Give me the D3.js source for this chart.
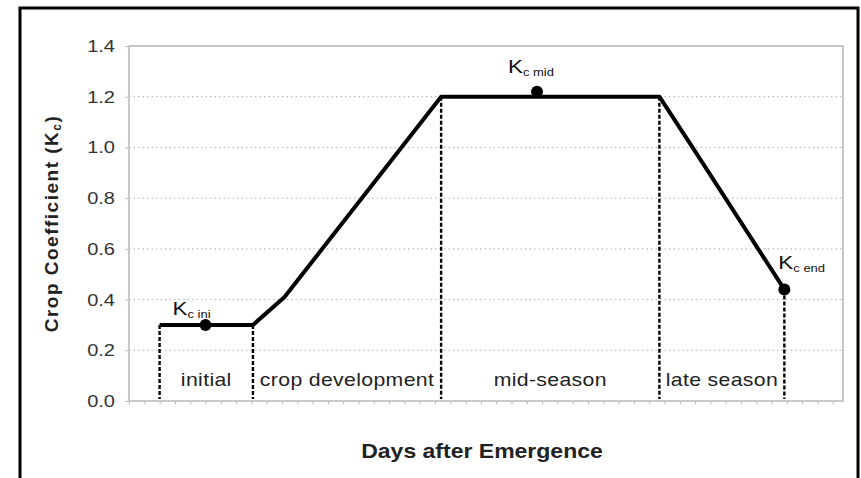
<!DOCTYPE html>
<html>
<head>
<meta charset="utf-8">
<script src="https://cdn.jsdelivr.net/npm/d3@7"></script>
<style>
  body { margin: 0; background: #fff; }
  svg text { font-family: "Liberation Sans", Arial, sans-serif; }
</style>
</head>
<body>
<div id="graphic"></div>
<script>
// crop coefficient curve (days after emergence vs Kc)
var kcDays = [6, 24.3, 30.5, 61.2, 104, 110.5, 128.5];
var kcValues = [0.3, 0.3, 0.41, 1.2, 1.2, 1.0, 0.44];

var stageBounds = [6, 24.3, 61.2, 104, 128.5];
var stageBoundKc = [0.3, 0.3, 1.2, 1.2, 0.44];
var stageNames = ["initial", "crop development", "mid-season", "late season"];

var kcPointDays = [15, 80, 128.5];
var kcPointValues = [0.3, 1.22, 0.44];
var kcPointSubs = ["c ini", "c mid", "c end"];

var yTicks = [0, 0.2, 0.4, 0.6, 0.8, 1.0, 1.2, 1.4];

var width = 861, height = 478;
var margin = {top: 46, right: 18, bottom: 77, left: 129};
var stretch = 1.18; // glyphs in the original are a bit wide

var svg = d3.select("#graphic").append("svg")
  .attr("width", width)
  .attr("height", height);

// outer frame
svg.append("rect")
  .attr("x", 20).attr("y", 8)
  .attr("width", 838).attr("height", 500)
  .attr("fill", "none")
  .attr("stroke", "#000")
  .attr("stroke-width", 3);

var x = d3.scaleLinear().domain([0, 140]).range([margin.left, width - margin.right]);
var y = d3.scaleLinear().domain([0, 1.4]).range([height - margin.bottom, margin.top]);

var features = svg.append("g");

// gridlines
features.selectAll(".grid")
  .data(yTicks.slice(1, -1))
  .enter().append("line")
  .attr("x1", x(0)).attr("x2", x(140))
  .attr("y1", function(d) { return y(d); })
  .attr("y2", function(d) { return y(d); })
  .attr("stroke", "#b0b0b0")
  .attr("stroke-width", 1)
  .attr("stroke-dasharray", "1.5,3");

// minor ticks on the x axis
var xAxis = d3.axisBottom(x).tickValues(d3.range(0, 141, 3)).tickSize(3).tickFormat("");
var xg = features.append("g")
  .attr("transform", "translate(0," + y(0) + ")")
  .call(xAxis);
xg.select(".domain").remove();
xg.selectAll("line").attr("stroke", "#aaa");

// y axis labels
var yAxis = d3.axisLeft(y).tickValues(yTicks).tickSize(4).tickFormat("");
var yg = features.append("g")
  .attr("transform", "translate(" + x(0) + ",0)")
  .call(yAxis);
yg.select(".domain").remove();
yg.selectAll("line").attr("stroke", "#bbb");

features.selectAll(".ylab")
  .data(yTicks)
  .enter().append("text")
  .attr("transform", function(d) { return "translate(115," + y(d) + ") scale(" + stretch + ",1)"; })
  .attr("dy", "0.35em")
  .attr("text-anchor", "end")
  .style("font-size", "17px")
  .attr("fill", "#333")
  .text(d3.format(".1f"));

// plot frame
features.append("rect")
  .attr("x", x(0)).attr("y", y(1.4))
  .attr("width", x(140) - x(0))
  .attr("height", y(0) - y(1.4))
  .attr("fill", "none")
  .attr("stroke", "#c8c8c8")
  .attr("stroke-width", 2);

// stage dividers
features.selectAll(".divider")
  .data(stageBounds)
  .enter().append("line")
  .attr("x1", function(d) { return x(d); })
  .attr("x2", function(d) { return x(d); })
  .attr("y1", function(d, i) { return y(stageBoundKc[i]); })
  .attr("y2", y(0) - 2)
  .attr("stroke", "#000")
  .attr("stroke-width", 2.4)
  .attr("stroke-dasharray", "4,2");

// stage names
features.selectAll(".stage")
  .data(stageNames)
  .enter().append("text")
  .attr("transform", function(d, i) {
    var cx = (x(stageBounds[i]) + x(stageBounds[i + 1])) / 2;
    return "translate(" + cx + ",386) scale(" + stretch + ",1)";
  })
  .attr("text-anchor", "middle")
  .style("font-size", "18px")
  .style("letter-spacing", "0.3px")
  .attr("fill", "#222")
  .text(function(d) { return d; });

// Kc curve
var line = d3.line()
  .x(function(d, i) { return x(kcDays[i]); })
  .y(function(d) { return y(d); });

features.append("path")
  .datum(kcValues)
  .attr("d", line)
  .attr("fill", "none")
  .attr("stroke", "#000")
  .attr("stroke-width", 4)
  .attr("stroke-linejoin", "round");

// Kc points
features.selectAll(".kcpt")
  .data(kcPointValues)
  .enter().append("circle")
  .attr("cx", function(d, i) { return x(kcPointDays[i]); })
  .attr("cy", function(d) { return y(d); })
  .attr("r", 6)
  .attr("fill", "#000");

var labelOffsets = [[-33, -10], [-29, -19], [-6, -20]];

var kLabels = features.selectAll(".klab")
  .data(kcPointSubs)
  .enter().append("text")
  .attr("transform", function(d, i) {
    return "translate(" + (x(kcPointDays[i]) + labelOffsets[i][0]) + "," +
      (y(kcPointValues[i]) + labelOffsets[i][1]) + ") scale(" + stretch + ",1)";
  })
  .attr("fill", "#111");

kLabels.append("tspan")
  .style("font-size", "19px")
  .text("K");
kLabels.append("tspan")
  .style("font-size", "11px")
  .attr("dy", 3)
  .text(function(d) { return d; });

// axis titles
svg.append("text")
  .attr("transform", "translate(58," + ((y(0) + y(1.4)) / 2) + ") rotate(-90)")
  .attr("text-anchor", "middle")
  .style("font-size", "19px")
  .style("font-weight", "bold")
  .style("letter-spacing", "1.5px")
  .attr("fill", "#222")
  .call(function(t) {
    t.append("tspan").text("Crop Coefficient (K");
    t.append("tspan").style("font-size", "12px").attr("dy", 3).text("c");
    t.append("tspan").attr("dy", -3).text(")");
  });

svg.append("text")
  .attr("transform", "translate(482,458) scale(" + stretch + ",1)")
  .attr("text-anchor", "middle")
  .style("font-size", "19.5px")
  .style("font-weight", "bold")
  .attr("fill", "#222")
  .text("Days after Emergence");
</script>
</body>
</html>
